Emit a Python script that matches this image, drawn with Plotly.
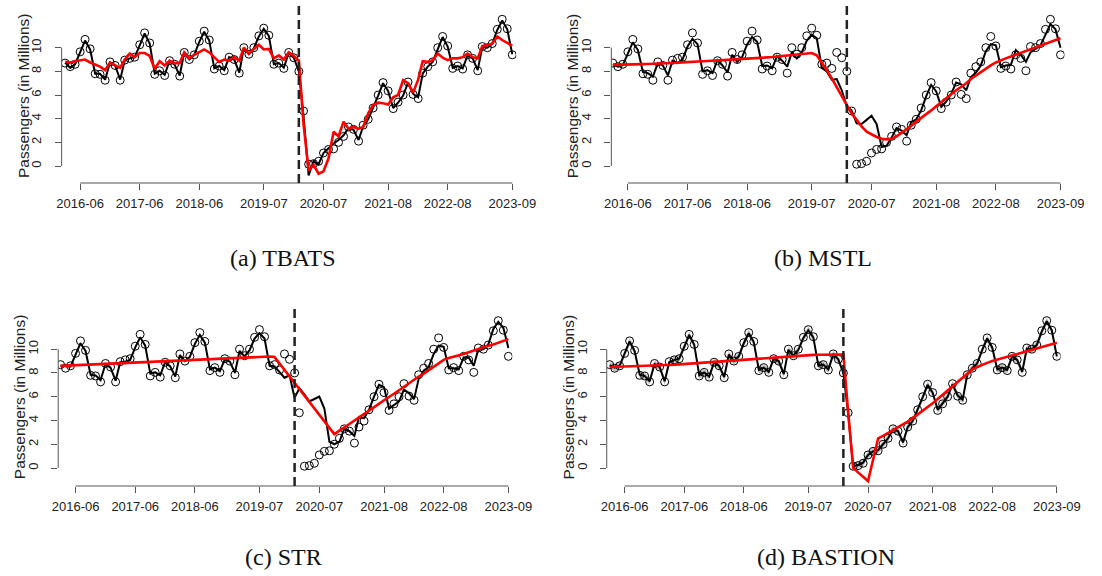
import pandas as pd
import plotly.graph_objects as go

# ---- data: monthly passengers (millions), Mar 2016 - Sep 2023 ----
start_month = "2016-03-01"
break_month = "2020-02-01"

observed = [
    8.7, 8.4, 8.6, 9.65, 10.7, 9.9, 7.8, 7.75, 7.25, 8.8,
    8.5, 7.25, 8.95, 9.1, 9.2, 10.25, 11.25, 10.4, 7.75, 8.05,
    7.65, 8.9, 8.6, 7.6, 9.6, 9.0, 9.4, 10.55, 11.4, 10.65,
    8.2, 8.45, 8.05, 9.2, 9.0, 7.85, 10.0, 9.45, 10.0, 11.0,
    11.65, 11.05, 8.6, 8.7, 8.25, 9.6, 9.15, 8.0, 4.65, 0.15,
    0.2, 0.4, 1.1, 1.4, 1.45, 2.0, 2.5, 3.3, 3.1, 2.1,
    3.45, 3.95, 4.9, 6.0, 7.05, 6.35, 4.85, 5.4, 6.0, 7.1,
    6.05, 5.7, 7.85, 8.4, 8.8, 10.0, 10.95, 10.15, 8.25, 8.45,
    8.2, 9.4, 9.1, 8.05, 10.1, 10.0, 10.35, 11.55, 12.4, 11.6, 9.4]

tbats_fit = [
    8.75, 8.3, 8.6, 9.6, 10.6, 9.85, 7.8, 7.8, 7.3, 8.75,
    8.5, 7.3, 8.9, 9.1, 9.2, 10.2, 11.2, 10.35, 7.8, 8.05,
    7.7, 8.9, 8.55, 7.65, 9.6, 9.0, 9.4, 10.5, 11.35, 10.6,
    8.25, 8.45, 8.1, 9.2, 9.0, 7.9, 9.95, 9.45, 9.95, 10.95,
    11.6, 11.0, 8.6, 8.7, 8.3, 9.55, 9.15, 8.0, 4.2, -0.8,
    0.4, 0.15, 1.1, 1.5, 1.9, 2.2, 2.6, 3.2, 3.05, 2.2,
    3.35, 3.95, 4.9, 5.95, 7.0, 6.35, 4.9, 5.35, 5.95, 7.05,
    6.1, 5.8, 7.8, 8.4, 8.8, 9.95, 10.9, 10.1, 8.3, 8.45,
    8.25, 9.35, 9.1, 8.1, 10.05, 10.0, 10.35, 11.5, 12.3, 11.55, 9.45]

tbats_trend = [
    8.8, 8.75, 8.85, 8.9, 9.0, 8.75, 8.6, 8.4, 8.1, 8.75,
    8.5, 8.3, 9.0, 9.5, 9.2, 9.55, 9.55, 9.3, 8.2, 8.85,
    8.5, 8.9, 8.7, 8.7, 9.6, 9.1, 9.4, 9.65, 9.85, 9.6,
    9.2, 8.8, 9.0, 8.9, 9.2, 8.9, 10.0, 9.5, 9.9, 10.25,
    9.85, 9.9, 9.1, 9.35, 9.0, 9.6, 9.3, 8.9, 3.5, -0.4,
    0.1, -0.65, -0.45, 0.65, 2.9, 2.5, 3.75, 3.15, 3.3, 3.15,
    3.3, 4.45, 5.15, 5.35, 5.3, 5.2, 5.8, 6.0, 7.25, 7.0,
    6.2, 7.3, 8.85, 8.8, 8.95, 9.5, 9.15, 8.95, 9.1, 9.1,
    9.2, 9.5, 9.2, 9.1, 10.15, 10.2, 10.35, 10.95, 10.65, 10.4, 10.15]

mstl_fit = [
    8.6, 8.4, 8.55, 9.5, 10.45, 9.8, 7.95, 7.85, 7.55, 8.7,
    8.5, 7.65, 8.9, 8.7, 9.0, 10.1, 10.75, 10.3, 8.0, 8.1,
    7.85, 8.95, 8.5, 7.9, 9.4, 8.8, 9.2, 10.3, 10.9, 10.5,
    8.45, 8.5, 8.25, 9.3, 8.9, 8.4, 9.6, 9.1, 9.6, 10.6,
    11.1, 10.8, 8.3, 8.0, 7.3, 7.35, 6.4, 5.0, 4.7, 3.6,
    3.55, 3.9, 4.25, 3.55, 1.6, 1.7, 2.4, 3.2, 3.0, 2.6,
    3.7, 3.95, 4.7, 5.9, 6.85, 6.3, 5.0, 5.45, 6.1, 7.05,
    6.9, 6.4, 7.5, 7.9, 8.5, 9.7, 10.3, 10.2, 8.35, 8.5,
    8.55, 9.8, 9.4, 8.8, 9.6, 9.9, 10.2, 11.1, 12.0, 11.55, 10.0]

mstl_trend = [
    8.55, 8.55, 8.56, 8.57, 8.58, 8.6, 8.61, 8.62, 8.63, 8.64,
    8.65, 8.67, 8.7, 8.73, 8.76, 8.8, 8.82, 8.84, 8.86, 8.88,
    8.9, 8.92, 8.94, 8.96, 8.98, 9.0, 9.03, 9.06, 9.09, 9.12,
    9.15, 9.18, 9.21, 9.25, 9.29, 9.33, 9.37, 9.41, 9.45, 9.5,
    9.55, 9.35, 8.75, 8.1, 7.4, 6.7, 5.9, 5.15, 4.45, 3.85,
    3.35, 2.9, 2.65, 2.45, 2.3, 2.25, 2.3, 2.5, 2.8, 3.1,
    3.4, 3.75, 4.05, 4.35, 4.7, 5.05, 5.4, 5.75, 6.05, 6.4,
    6.7, 7.0, 7.35, 7.65, 7.95, 8.25, 8.5, 8.75, 8.95, 9.1,
    9.25, 9.4, 9.55, 9.7, 9.85, 10.0, 10.15, 10.3, 10.45, 10.6, 10.8]

str_fit = [
    8.6, 8.6, 8.55, 9.55, 10.5, 9.85, 7.85, 7.8, 7.4, 8.75,
    8.45, 7.35, 8.9, 8.95, 9.1, 10.15, 11.0, 10.3, 7.95, 8.05,
    7.8, 8.9, 8.55, 7.7, 9.5, 9.0, 9.35, 10.45, 11.2, 10.55,
    8.3, 8.45, 8.15, 9.15, 8.95, 8.0, 9.85, 9.4, 9.9, 10.9,
    11.35, 10.9, 8.6, 8.55, 8.1, 7.6, 7.8, 5.9, 6.7, 6.2,
    5.6, 5.8, 6.0, 5.0, 2.2, 2.0, 2.2, 3.3, 3.1, 2.7,
    4.3, 4.2, 4.9, 6.0, 7.0, 6.8, 5.0, 5.3, 5.6, 6.6,
    6.3, 5.8, 7.5, 8.2, 8.5, 9.6, 10.3, 10.2, 8.4, 8.4,
    8.3, 9.3, 9.3, 8.6, 10.0, 10.0, 10.4, 11.7, 12.3, 11.8, 10.1]

str_trend = [
    8.6, 8.62, 8.64, 8.66, 8.68, 8.7, 8.72, 8.74, 8.76, 8.78,
    8.8, 8.82, 8.84, 8.86, 8.88, 8.9, 8.91, 8.93, 8.95, 8.97,
    8.99, 9.01, 9.03, 9.05, 9.07, 9.09, 9.11, 9.13, 9.15, 9.17,
    9.19, 9.21, 9.23, 9.25, 9.27, 9.29, 9.3, 9.32, 9.34, 9.36,
    9.38, 9.4, 9.38, 9.35, 8.8, 8.25, 7.7, 7.15, 6.6, 6.05,
    5.5, 4.95, 4.4, 3.9, 3.35, 2.85, 3.15, 3.4, 3.7, 4.0,
    4.25, 4.55, 4.85, 5.1, 5.4, 5.7, 5.95, 6.25, 6.55, 6.85,
    7.1, 7.4, 7.7, 7.95, 8.25, 8.55, 8.8, 9.1, 9.25, 9.35,
    9.5, 9.6, 9.75, 9.9, 10.0, 10.15, 10.3, 10.4, 10.55, 10.7, 10.85]

bastion_fit = [
    8.65, 8.45, 8.6, 9.6, 10.65, 9.85, 7.85, 7.75, 7.3, 8.75,
    8.5, 7.3, 8.9, 9.1, 9.2, 10.2, 11.2, 10.4, 7.8, 8.05,
    7.7, 8.9, 8.6, 7.65, 9.55, 9.0, 9.4, 10.5, 11.35, 10.6,
    8.25, 8.45, 8.1, 9.2, 9.0, 7.9, 9.95, 9.45, 9.95, 10.95,
    11.6, 11.0, 8.6, 8.7, 8.3, 9.55, 9.15, 8.0, 4.65, 0.15,
    0.25, 0.45, 1.1, 1.4, 1.5, 2.0, 2.5, 3.25, 3.1, 2.15,
    3.45, 3.95, 4.9, 5.95, 7.0, 6.35, 4.9, 5.4, 6.0, 7.05,
    6.1, 5.75, 7.85, 8.4, 8.8, 9.95, 10.9, 10.15, 8.3, 8.45,
    8.25, 9.4, 9.1, 8.1, 10.05, 10.0, 10.35, 11.5, 12.35, 11.6, 9.4]

bastion_trend = [
    8.5, 8.51, 8.52, 8.53, 8.54, 8.55, 8.56, 8.57, 8.58, 8.59,
    8.6, 8.63, 8.66, 8.69, 8.72, 8.75, 8.78, 8.81, 8.84, 8.87,
    8.9, 8.93, 8.97, 9.0, 9.04, 9.07, 9.11, 9.14, 9.18, 9.21,
    9.25, 9.28, 9.3, 9.33, 9.35, 9.38, 9.4, 9.43, 9.45, 9.48,
    9.5, 9.52, 9.53, 9.54, 9.55, 9.55, 9.55, 9.55, 4.75, 0.0,
    -0.37, -0.75, -1.1, 0.7, 2.5, 2.7, 2.95, 3.2, 3.4, 3.65,
    3.9, 4.2, 4.5, 4.8, 5.1, 5.45, 5.8, 6.15, 6.5, 6.85,
    7.2, 7.55, 7.9, 8.3, 8.5, 8.7, 8.85, 9.0, 9.12, 9.24,
    9.36, 9.48, 9.6, 9.72, 9.84, 9.96, 10.08, 10.2, 10.32, 10.44, 10.55]

# half-width of the shaded uncertainty band around the fitted line
str_band = 0.12
bastion_band = 0.3

tick_dates = ["2016-06-01", "2017-06-01", "2018-06-01", "2019-07-01",
              "2020-07-01", "2021-08-01", "2022-08-01", "2023-09-01"]
tick_labels = ["2016-06", "2017-06", "2018-06", "2019-07",
               "2020-07", "2021-08", "2022-08", "2023-09"]
y_ticks = [0, 2, 4, 6, 8, 10]

captions = ["(a) TBATS", "(b) MSTL", "(c) STR", "(d) BASTION"]

# ---- page geometry (pixels) ----
W, H = 1102, 576
# left, right, first-tick px, last-tick px, top, bottom, px of y=0, px of y=10,
# y-title x / y, caption x / y
geom = [
    dict(L=56, R=522, p1=75.0, p2=518.0, T=4, B=183, y0=166, y10=47.7,
         ytx=17, yty=95.5, cx=283, cy=258),
    dict(L=619.5, R=1084, p1=636.5, p2=1080.0, T=4, B=183, y0=166, y10=47.7,
         ytx=580, yty=95.5, cx=836, cy=258),
    dict(L=52.5, R=518, p1=70.3, p2=514.0, T=306.5, B=486, y0=468, y10=349.2,
         ytx=13, yty=396.5, cx=283, cy=557),
    dict(L=614.8, R=1080, p1=633.2, p2=1076.2, T=306.5, B=486, y0=468, y10=349.2,
         ytx=576, yty=396.5, cx=840, cy=557),
]

months = pd.date_range(start_month, periods=len(observed), freq="MS")
fits = [tbats_fit, mstl_fit, str_fit, bastion_fit]
trends = [tbats_trend, mstl_trend, str_trend, bastion_trend]
bands = [None, None, str_band, bastion_band]

FONT = "Liberation Sans, Arial, sans-serif"


def date_range_for(g):
    t1, t2 = pd.Timestamp(tick_dates[0]), pd.Timestamp(tick_dates[-1])
    per_px = (t2 - t1) / (g["p2"] - g["p1"])
    lo = t1 - per_px * (g["p1"] - g["L"])
    hi = t1 + per_px * (g["R"] - g["p1"])
    return [lo.strftime("%Y-%m-%d %H:%M:%S"), hi.strftime("%Y-%m-%d %H:%M:%S")]


def value_range_for(g):
    ppu = (g["y0"] - g["y10"]) / 10.0
    return [(g["y0"] - g["B"]) / ppu, (g["y0"] - g["T"]) / ppu]


fig = go.Figure()
shapes, annotations = [], []

for k, g in enumerate(geom):
    n = "" if k == 0 else str(k + 1)
    xa, ya = "x" + n, "y" + n

    if bands[k] is not None:
        hw = bands[k]
        fig.add_trace(go.Scatter(x=months, y=[v + hw for v in fits[k]], mode="lines",
                                 line=dict(width=0, color="rgba(0,0,0,0)"),
                                 xaxis=xa, yaxis=ya, showlegend=False, hoverinfo="skip"))
        fig.add_trace(go.Scatter(x=months, y=[v - hw for v in fits[k]], mode="lines",
                                 line=dict(width=0, color="rgba(0,0,0,0)"),
                                 fill="tonexty", fillcolor="rgba(120,120,120,0.45)",
                                 xaxis=xa, yaxis=ya, showlegend=False, hoverinfo="skip"))

    fig.add_trace(go.Scatter(x=months, y=fits[k], mode="lines",
                             line=dict(color="black", width=2),
                             xaxis=xa, yaxis=ya, showlegend=False))
    fig.add_trace(go.Scatter(x=months, y=observed, mode="markers",
                             marker=dict(symbol="circle-open", size=8, color="black",
                                         line=dict(width=1, color="black")),
                             xaxis=xa, yaxis=ya, showlegend=False))
    fig.add_trace(go.Scatter(x=months, y=trends[k], mode="lines",
                             line=dict(color="#ff0000", width=2.6),
                             xaxis=xa, yaxis=ya, showlegend=False))

    fig.update_layout(**{
        ("xaxis" + n): dict(
            domain=[g["L"] / W, g["R"] / W], anchor=ya, type="date",
            range=date_range_for(g), tickvals=tick_dates, ticktext=tick_labels,
            ticks="outside", ticklen=6, tickwidth=1, tickcolor="#555",
            tickfont=dict(family=FONT, size=13, color="#222"), ticklabelstandoff=2,
            showline=False, showgrid=False, zeroline=False),
        ("yaxis" + n): dict(
            domain=[1 - g["B"] / H, 1 - g["T"] / H], anchor=xa,
            range=value_range_for(g), tickvals=y_ticks, tickangle=-90,
            ticks="outside", ticklen=6, tickwidth=1, tickcolor="#555",
            tickfont=dict(family=FONT, size=13, color="#222"), ticklabelstandoff=8,
            showline=False, showgrid=False, zeroline=False),
    })

    # R-style axis lines spanning first to last tick
    shapes.append(dict(type="line", xref=xa, yref=ya + " domain",
                       x0=tick_dates[0], x1=tick_dates[-1], y0=0, y1=0,
                       line=dict(color="#555", width=1)))
    shapes.append(dict(type="line", xref=xa + " domain", yref=ya,
                       x0=0, x1=0, y0=y_ticks[0], y1=y_ticks[-1],
                       line=dict(color="#555", width=1)))
    # structural break marker
    shapes.append(dict(type="line", xref=xa, yref=ya + " domain",
                       x0=break_month, x1=break_month, y0=0, y1=1,
                       line=dict(color="#222", width=2.5, dash="9px,5px")))

    annotations.append(dict(text="Passengers (in Millions)", textangle=-90,
                            xref="paper", yref="paper",
                            x=g["ytx"] / W, y=1 - g["yty"] / H,
                            xanchor="center", yanchor="middle", showarrow=False,
                            font=dict(family=FONT, size=15.5, color="#222")))
    annotations.append(dict(text=captions[k], xref="paper", yref="paper",
                            x=g["cx"] / W, y=1 - g["cy"] / H,
                            xanchor="center", yanchor="middle", showarrow=False,
                            font=dict(family="Liberation Serif, Times New Roman, serif",
                                      size=24, color="#111")))

fig.update_layout(width=W, height=H, margin=dict(l=0, r=0, t=0, b=0),
                  paper_bgcolor="white", plot_bgcolor="white",
                  shapes=shapes, annotations=annotations, showlegend=False)

fig.write_html("out.html")
